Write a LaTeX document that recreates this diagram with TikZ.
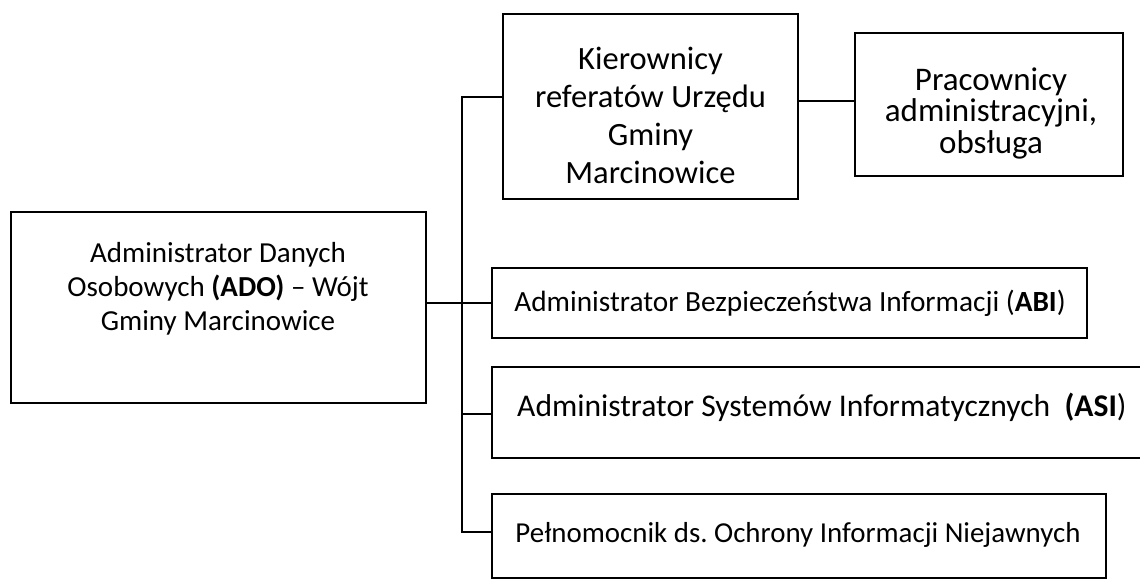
\documentclass[tikz,border=0pt]{standalone}
\usepackage{fontspec}
\setmainfont{Carlito}
\begin{document}
\begin{tikzpicture}[x=1pt,y=-1pt,
  boxnode/.style={draw=black,line width=1.3pt,rectangle,inner sep=0pt},
  txt/.style={inner sep=0pt,align=center,text=black},
  conn/.style={draw=black,line width=1.7pt}]
\useasboundingbox[fill=white] (0,0) rectangle (1140,580);
% boxes
\node[boxnode,minimum width=415pt,minimum height=191pt] (ADO) at (218.5,307.5) {};
\node[boxnode,minimum width=295pt,minimum height=185pt] (KIER) at (650.5,106.5) {};
\node[boxnode,minimum width=268pt,minimum height=143pt] (PRAC) at (989,104.5) {};
\node[boxnode,minimum width=595pt,minimum height=70pt] (ABI) at (789.5,303) {};
\node[boxnode,minimum width=653pt,minimum height=91pt] (ASI) at (818.5,412.5) {};
\node[boxnode,minimum width=614pt,minimum height=84pt] (PEL) at (799,536) {};
% texts
\node[txt,font=\fontsize{29}{34}\selectfont] (tADO) at (218,289) {Administrator Danych\\Osobowych \textbf{(ADO)} – Wójt\\Gminy Marcinowice};
\node[txt,font=\fontsize{32.5}{38}\selectfont] (tKIER) at (650.5,115) {Kierownicy\\referatów Urzędu\\Gminy\\Marcinowice};
\node[txt,font=\fontsize{33}{31.5}\selectfont] (tPRAC) at (991,113) {Pracownicy\\administracyjni,\\obsługa};
\node[txt,font=\fontsize{29.3}{32}\selectfont] (tABI) at (790,303) {Administrator Bezpieczeństwa Informacji (\textbf{ABI})};
\node[txt,font=\fontsize{31.6}{34}\selectfont,anchor=west] (tASI) at (517,407) {Administrator Systemów Informatycznych\ \ \textbf{(ASI})};
\node[txt,font=\fontsize{28.9}{32}\selectfont] (tPEL) at (798,535) {Pełnomocnik ds.\ Ochrony Informacji Niejawnych};
% connector points
\coordinate (bt) at (462,97);
\coordinate (bb) at (462,532);
\coordinate (basi) at (462,414);
\coordinate (kp) at (826,101);
% connectors
\draw[conn] (ABI.west -| ADO.east) -- (ABI.west);
\draw[conn] (KIER.west |- bt) -- (bt) -- (bb) -- (PEL.west |- bb);
\draw[conn] (basi) -- (ASI.west |- basi);
\draw[conn] (KIER.east |- kp) -- (PRAC.west |- kp);
\end{tikzpicture}
\end{document}
